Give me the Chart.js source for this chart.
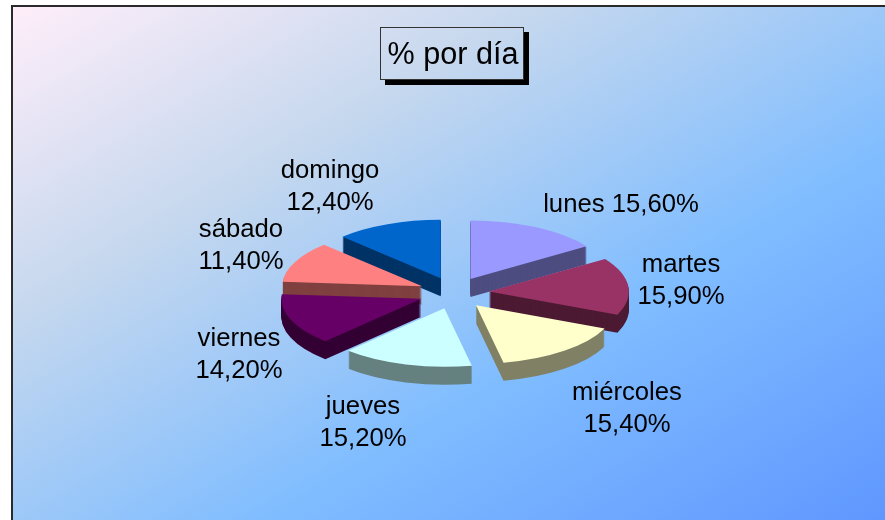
<!DOCTYPE html>
<html>
<head>
<meta charset="utf-8">
<style>html,body{margin:0;padding:0;background:#fff;overflow:hidden}canvas{display:block}</style>
<script src="https://cdn.jsdelivr.net/npm/chart.js@4/dist/chart.umd.min.js"></script>
</head>
<body>
<canvas id="c" width="885" height="520"></canvas>
<script>
const categories = ['lunes','martes','miércoles','jueves','viernes','sábado','domingo'];
const percentages = [15.6,15.9,15.4,15.2,14.2,11.4,12.4];
const titleText = '% por día';

const topColors  = ['#9999FF','#993366','#FFFFCC','#CCFFFF','#660066','#FF8080','#0066CC'];
const wallColors = ['#4D4D80','#4D1A33','#808066','#668080','#330033','#804040','#003366'];
// label centres (x, y of first line); lunes sits on one line
const labelSpots = [[621,204.5],[681,264.5],[627,392.5],[363,406.5],[239,338.5],[241,229.5],[330,170.5]];
const singleLine = [true,false,false,false,false,false,false];

const CX = 454, CY = 293, SQUASH = 0.418, DEPTH = 18, EXPLODE_X = 35, EXPLODE_Y = 38;
const LABEL_FONT = '25.7px "Liberation Sans", Arial, sans-serif';

const pie3d = {
  id: 'pie3d',
  beforeDraw(chart) {
    const ctx = chart.ctx, W = chart.width, H = chart.height;
    ctx.save();
    ctx.fillStyle = '#fff'; ctx.fillRect(0,0,W,H);
    const g = ctx.createLinearGradient(13,6,463,769);
    g.addColorStop(0,'#FFEEFA');
    g.addColorStop(0.3,'#C6D8EE');
    g.addColorStop(0.64,'#80BDFF');
    g.addColorStop(1,'#5F97FF');
    ctx.fillStyle = g; ctx.fillRect(13,7,W-13,H-7);
    ctx.fillStyle = '#2a2a2a';
    ctx.fillRect(11,5,W-11,2);
    ctx.fillRect(11,5,2,H-5);
    // title frame and shadow
    ctx.fillStyle = '#000';
    ctx.fillRect(524,32,5,53);
    ctx.fillRect(385,80,144,5);
    ctx.strokeStyle = '#333'; ctx.lineWidth = 1;
    ctx.strokeRect(380.5,27.5,143,52);
    ctx.restore();
  },
  beforeDatasetDraw(chart) {
    const ctx = chart.ctx;
    const arcs = chart.getDatasetMeta(0).data.slice();
    const order = arcs.map((a,i)=>i).sort((p,q)=>{
      const yOf = a => Math.sin((a.startAngle+a.endAngle)/2);
      return yOf(arcs[p]) - yOf(arcs[q]);
    });
    order.forEach(i => {
      const arc = arcs[i], h = (arc.startAngle+arc.endAngle)/2, base = arc.options;
      const place = d => {
        ctx.setTransform(1,0,0,1,0,0);
        ctx.translate(CX, CY + d);
        ctx.scale(1, SQUASH);
        ctx.translate(Math.cos(h)*EXPLODE_X - arc.x, Math.sin(h)*EXPLODE_Y - arc.y);
      };
      ctx.save();
      arc.options = Object.assign({}, base, {backgroundColor: wallColors[i], borderWidth: 0});
      for (let d = DEPTH; d >= 1; d--) { place(d); arc.draw(ctx); }
      arc.options = Object.assign({}, base, {backgroundColor: topColors[i], borderWidth: 0});
      place(0); arc.draw(ctx);
      arc.options = base;
      ctx.restore();
    });
    return false;
  },
  afterDraw(chart) {
    const ctx = chart.ctx;
    ctx.save();
    ctx.setTransform(1,0,0,1,0,0);
    ctx.fillStyle = '#000';
    ctx.font = LABEL_FONT;
    ctx.textAlign = 'center';
    ctx.textBaseline = 'middle';
    categories.forEach((name,i) => {
      const pct = percentages[i].toFixed(2).replace('.',',') + '%';
      const [x,y] = labelSpots[i];
      if (singleLine[i]) ctx.fillText(name + ' ' + pct, x, y);
      else { ctx.fillText(name, x, y); ctx.fillText(pct, x, y + 32); }
    });
    ctx.restore();
  }
};

new Chart(document.getElementById('c'), {
  type: 'pie',
  data: { labels: categories, datasets: [{ data: percentages, backgroundColor: topColors, borderWidth: 0 }] },
  plugins: [pie3d],
  options: {
    responsive: false,
    animation: false,
    events: [],
    layout: { padding: { left: 313, right: 292, top: 0, bottom: 87 } },
    plugins: {
      legend: { display: false },
      tooltip: { enabled: false },
      title: {
        display: true,
        text: titleText,
        color: '#000',
        font: { family: '"Liberation Sans", Arial, sans-serif', size: 30.6, weight: 'normal' },
        padding: { top: 37, bottom: 79.3 }
      }
    }
  }
});
</script>
</body>
</html>
